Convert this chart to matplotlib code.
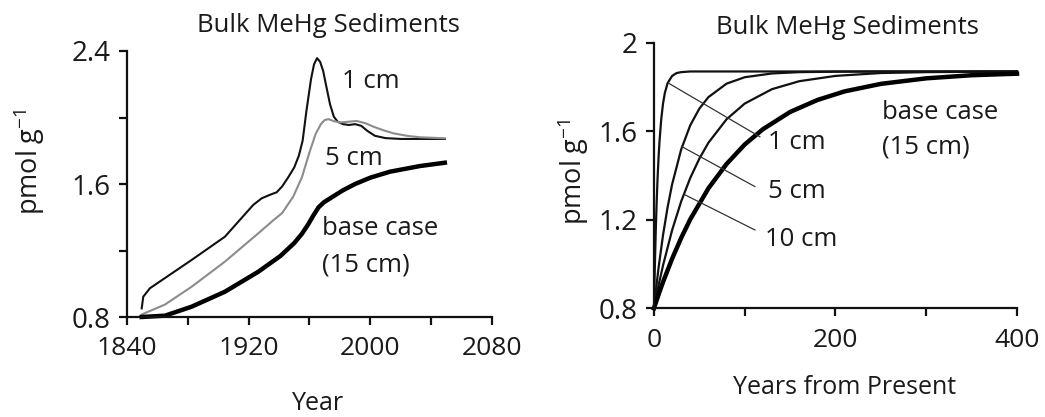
import matplotlib.pyplot as plt

plt.rcParams['font.family'] = ['Open Sans', 'DejaVu Sans']

# left panel: historical simulation
year_1cm = [1849.7, 1850.7, 1855.1, 1882.5, 1904.4, 1923.0, 1928.6, 1934.0, 1938.4, 1942.0,
            1946.0, 1950.0, 1953.0, 1955.5, 1958.0, 1961.0, 1963.0, 1965.0, 1967.0, 1969.0,
            1971.0, 1973.5, 1976.0, 1978.5, 1982.0, 1986.0, 1990.0, 1994.0, 1998.0, 2003.0,
            2010.0, 2020.0, 2049.0]
val_1cm = [0.852, 0.922, 0.973, 1.143, 1.283, 1.474, 1.514, 1.535, 1.550, 1.585,
           1.640, 1.700, 1.770, 1.860, 2.040, 2.230, 2.320, 2.357, 2.335, 2.280,
           2.190, 2.080, 2.005, 1.975, 1.960, 1.955, 1.960, 1.950, 1.920, 1.890,
           1.876, 1.871, 1.871]
year_5cm = [1849.7, 1865.0, 1882.5, 1904.4, 1926.3, 1936.0, 1942.0, 1949.3, 1955.0, 1960.0,
            1964.0, 1967.5, 1970.0, 1972.5, 1976.0, 1980.0, 1986.0, 1991.0, 1997.0, 2002.0,
            2008.0, 2015.1, 2024.0, 2032.6, 2049.0]
val_5cm = [0.815, 0.875, 0.982, 1.133, 1.303, 1.380, 1.425, 1.524, 1.640, 1.790,
           1.900, 1.960, 1.985, 1.990, 1.978, 1.970, 1.975, 1.979, 1.965, 1.945,
           1.925, 1.905, 1.890, 1.881, 1.875]
year_base = [1849.7, 1865.0, 1882.5, 1904.4, 1926.3, 1941.0, 1950.0, 1955.0, 1959.0, 1962.5,
             1966.0, 1969.5, 1975.0, 1982.0, 1990.0, 2000.0, 2012.9, 2032.6, 2049.0]
val_base = [0.800, 0.808, 0.862, 0.952, 1.072, 1.168, 1.245, 1.300, 1.355, 1.410,
            1.460, 1.490, 1.522, 1.562, 1.600, 1.638, 1.674, 1.708, 1.728]

# right panel: future projections
t_1cm = [0, 1, 2, 3, 4, 5, 6, 8, 10, 12, 15, 20, 25, 30, 40, 60, 100, 200, 300, 400]
v_1cm = [0.80, 0.994, 1.153, 1.283, 1.389, 1.476, 1.548, 1.654, 1.725, 1.773, 1.817, 1.850,
         1.863, 1.867, 1.870, 1.870, 1.870, 1.870, 1.870, 1.870]
t_5cm = [0, 2, 5, 10, 15, 20, 30, 40, 50, 60, 80, 100, 130, 160, 200, 250, 300, 400]
v_5cm = [0.80, 0.876, 0.981, 1.131, 1.256, 1.360, 1.518, 1.627, 1.702, 1.754, 1.815, 1.844,
         1.861, 1.867, 1.869, 1.870, 1.870, 1.870]
t_10cm = [0, 5, 10, 20, 30, 40, 50, 60, 80, 100, 130, 160, 200, 250, 300, 400]
v_10cm = [0.80, 0.902, 0.994, 1.153, 1.283, 1.389, 1.476, 1.548, 1.654, 1.725, 1.790, 1.826,
          1.850, 1.863, 1.867, 1.870]
t_base = [0, 5, 10, 20, 30, 40, 60, 80, 100, 120, 150, 180, 210, 250, 300, 350, 400]
v_base = [0.80, 0.861, 0.919, 1.024, 1.118, 1.202, 1.342, 1.452, 1.540, 1.609, 1.687, 1.741,
          1.780, 1.814, 1.839, 1.853, 1.860]

TXT = '#1a1a1a'
FS = 18.5
W, H = 1045, 417

fig = plt.figure(figsize=(10.45, 4.17), dpi=100)
ax1 = fig.add_axes([0.1215, 0.2398, 0.3493, 0.6379])
ax2 = fig.add_axes([0.6258, 0.2607, 0.3474, 0.6369])


def style(ax):
    for s in ['top', 'right']:
        ax.spines[s].set_visible(False)
    for s in ['left', 'bottom']:
        ax.spines[s].set_linewidth(1.6)
        ax.spines[s].set_color('#111111')
    ax.tick_params(direction='out', length=6, width=1.6, color='#111111',
                   labelcolor=TXT)
    ax.tick_params(axis='x', pad=8, labelsize=19)
    ax.tick_params(axis='y', pad=6, labelsize=20)


def ftext(px, py, s, **kw):
    # place text at pixel position measured from top-left
    fig.text(px / W, 1 - py / H, s, ha='center', va='center', color=TXT, **kw)


# ---- left ----
ax1.plot(year_1cm, val_1cm, color='#111111', lw=1.5, clip_on=False)
ax1.plot(year_5cm, val_5cm, color='#8c8c8c', lw=1.5, clip_on=False)
ax1.plot(year_base, val_base, color='#000000', lw=3.2, clip_on=False)
ax1.set_xlim(1840, 2080)
ax1.set_ylim(0.8, 2.4)
ax1.set_xticks([1840, 1880, 1920, 1960, 2000, 2040, 2080])
ax1.set_xticklabels(['1840', '', '1920', '', '2000', '', '2080'])
ax1.set_yticks([0.8, 1.2, 1.6, 2.0, 2.4])
ax1.set_yticklabels(['0.8', '', '1.6', '', '2.4'])
style(ax1)
ax1.text(1981.2, 2.215, '1 cm', fontsize=FS, color=TXT, va='center')
ax1.text(1970.2, 1.756, '5 cm', fontsize=FS, color=TXT, va='center')
ax1.text(1968, 1.335, 'base case', fontsize=FS, color=TXT, va='center')
ax1.text(1968, 1.113, '(15 cm)', fontsize=FS, color=TXT, va='center')

# ---- right ----
for t, v in [(t_1cm, v_1cm), (t_5cm, v_5cm), (t_10cm, v_10cm)]:
    ax2.plot(t, v, color='#111111', lw=1.6, clip_on=False)
ax2.plot(t_base, v_base, color='#000000', lw=3.2, clip_on=False)
ax2.set_xlim(0, 400)
ax2.set_ylim(0.8, 2.0)
ax2.set_xticks([0, 100, 200, 300, 400])
ax2.set_xticklabels(['0', '', '200', '', '400'])
ax2.set_yticks([0.8, 1.2, 1.6, 2.0])
ax2.set_yticklabels(['0.8', '1.2', '1.6', '2'])
style(ax2)

# leader lines and labels
ax2.plot([15.7, 116.7], [1.818, 1.575], color='#333333', lw=0.9)
ax2.plot([30.5, 111.2], [1.531, 1.350], color='#333333', lw=0.9)
ax2.plot([34.0, 111.2], [1.313, 1.154], color='#333333', lw=0.9)
ax2.text(125.6, 1.548, '1 cm', fontsize=FS, color=TXT, va='center')
ax2.text(125.6, 1.326, '5 cm', fontsize=FS, color=TXT, va='center')
ax2.text(122, 1.109, '10 cm', fontsize=FS, color=TXT, va='center')
ax2.text(250.8, 1.684, 'base case', fontsize=FS, color=TXT, va='center')
ax2.text(250.8, 1.530, '(15 cm)', fontsize=FS, color=TXT, va='center')

# titles and axis labels
ftext(328, 25, 'Bulk MeHg Sediments', fontsize=18.5)
ftext(847, 28, 'Bulk MeHg Sediments', fontsize=18.5)
ftext(318, 403, 'Year', fontsize=18)
ftext(845, 388, 'Years from Present', fontsize=18)
ftext(29, 162, 'pmol g$^{\\mathregular{-1}}$', fontsize=19.5, rotation=90)
ftext(573, 172, 'pmol g$^{\\mathregular{-1}}$', fontsize=19.5, rotation=90)

fig.savefig('out.png', dpi=100)
